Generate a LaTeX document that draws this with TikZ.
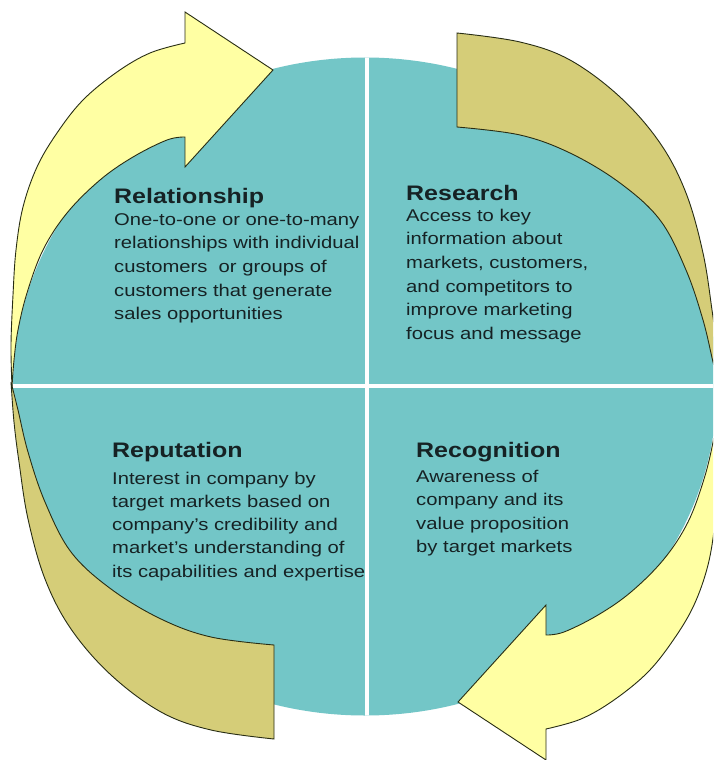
\documentclass[tikz,border=0pt]{standalone}
\usepackage{fontspec}
\setmainfont{Liberation Sans}[FakeStretch=1.19]
\definecolor{tealfill}{RGB}{115,198,199}
\definecolor{yelfill}{RGB}{255,255,163}
\definecolor{tanfill}{RGB}{213,205,120}
\definecolor{txtcol}{RGB}{22,34,36}
\definecolor{edgecol}{RGB}{40,45,20}
\begin{document}
\begin{tikzpicture}[x=1pt,y=-1pt,
  titletext/.style={anchor=base west, inner sep=0pt, font=\fontsize{21}{25}\selectfont\bfseries, text=txtcol},
  bodytext/.style={anchor=base west, inner sep=0pt, font=\fontsize{17}{20}\selectfont, text=txtcol},
  band/.style={draw=edgecol, line width=0.9pt, line join=miter},
  divider/.style={white, line width=4pt}]
\useasboundingbox (0,0) rectangle (713,760);
\clip (0,0) rectangle (713,760);
\fill[white] (0,0) rectangle (713,760);
% teal disc
\fill[tealfill] (365,386.5) ellipse [x radius=352, y radius=329];
\begin{scope}
  \clip (365,386.5) ellipse [x radius=352, y radius=329];
  \draw[divider] (0,386) -- (713,386);
  \draw[divider] (367,0) -- (367,760);
\end{scope}
% arrows: upper-left yellow + upper-right tan, and their 180 degree copies
\foreach \ang in {0,180} {
\begin{scope}[rotate around={\ang:(365.5,386)}]
  \path[band, fill=yelfill]
    plot[smooth, tension=0.6] coordinates {(12,387) (11,345) (13,295) (16,250) (23,207) (37,167) (57,133) (83,100) (117,72) (150,53) (185,43)}
    -- (185,12) -- (273,70) -- (185,167) -- (185,137)
    -- plot[smooth, tension=0.6] coordinates {(185,137) (167,140) (133,157) (100,180) (67,213) (43,250) (27,293) (18,330) (14,360) (12,387)}
    -- cycle;
  \path[band, fill=tanfill]
    plot[smooth, tension=0.6] coordinates {(457,33) (520,42) (570,60) (620,97) (660,143) (686,193) (703,253) (712,310) (717,350) (720,390)}
    -- plot[smooth, tension=0.6] coordinates {(720,390) (713,362) (703,320) (686,270) (660,220) (620,183) (570,153) (520,135) (457,127)}
    -- cycle;
\end{scope}
}
% texts
\node[titletext] (relT) at (114,203) {Relationship};
\foreach \t [count=\i from 0] in {One-to-one or one-to-many, relationships with individual, customers\ \ or groups of, customers that generate, sales opportunities}
  \node[bodytext] (rel\i) at (114,225+23.7*\i) {\t};
\node[titletext] (resT) at (406,200) {Research};
\foreach \t [count=\i from 0] in {Access to key, information about, {markets, customers,}, and competitors to, improve marketing, focus and message}
  \node[bodytext] (res\i) at (406,221+23.7*\i) {\t};
\node[titletext] (repT) at (112,457) {Reputation};
\foreach \t [count=\i from 0] in {Interest in company by, target markets based on, company’s credibility and, market’s understanding of, its capabilities and expertise}
  \node[bodytext] (rep\i) at (112,484+23.3*\i) {\t};
\node[titletext] (recT) at (416,457) {Recognition};
\foreach \t [count=\i from 0] in {Awareness of, company and its, value proposition, by target markets}
  \node[bodytext] (rec\i) at (416,482+23.5*\i) {\t};
\end{tikzpicture}
\end{document}
